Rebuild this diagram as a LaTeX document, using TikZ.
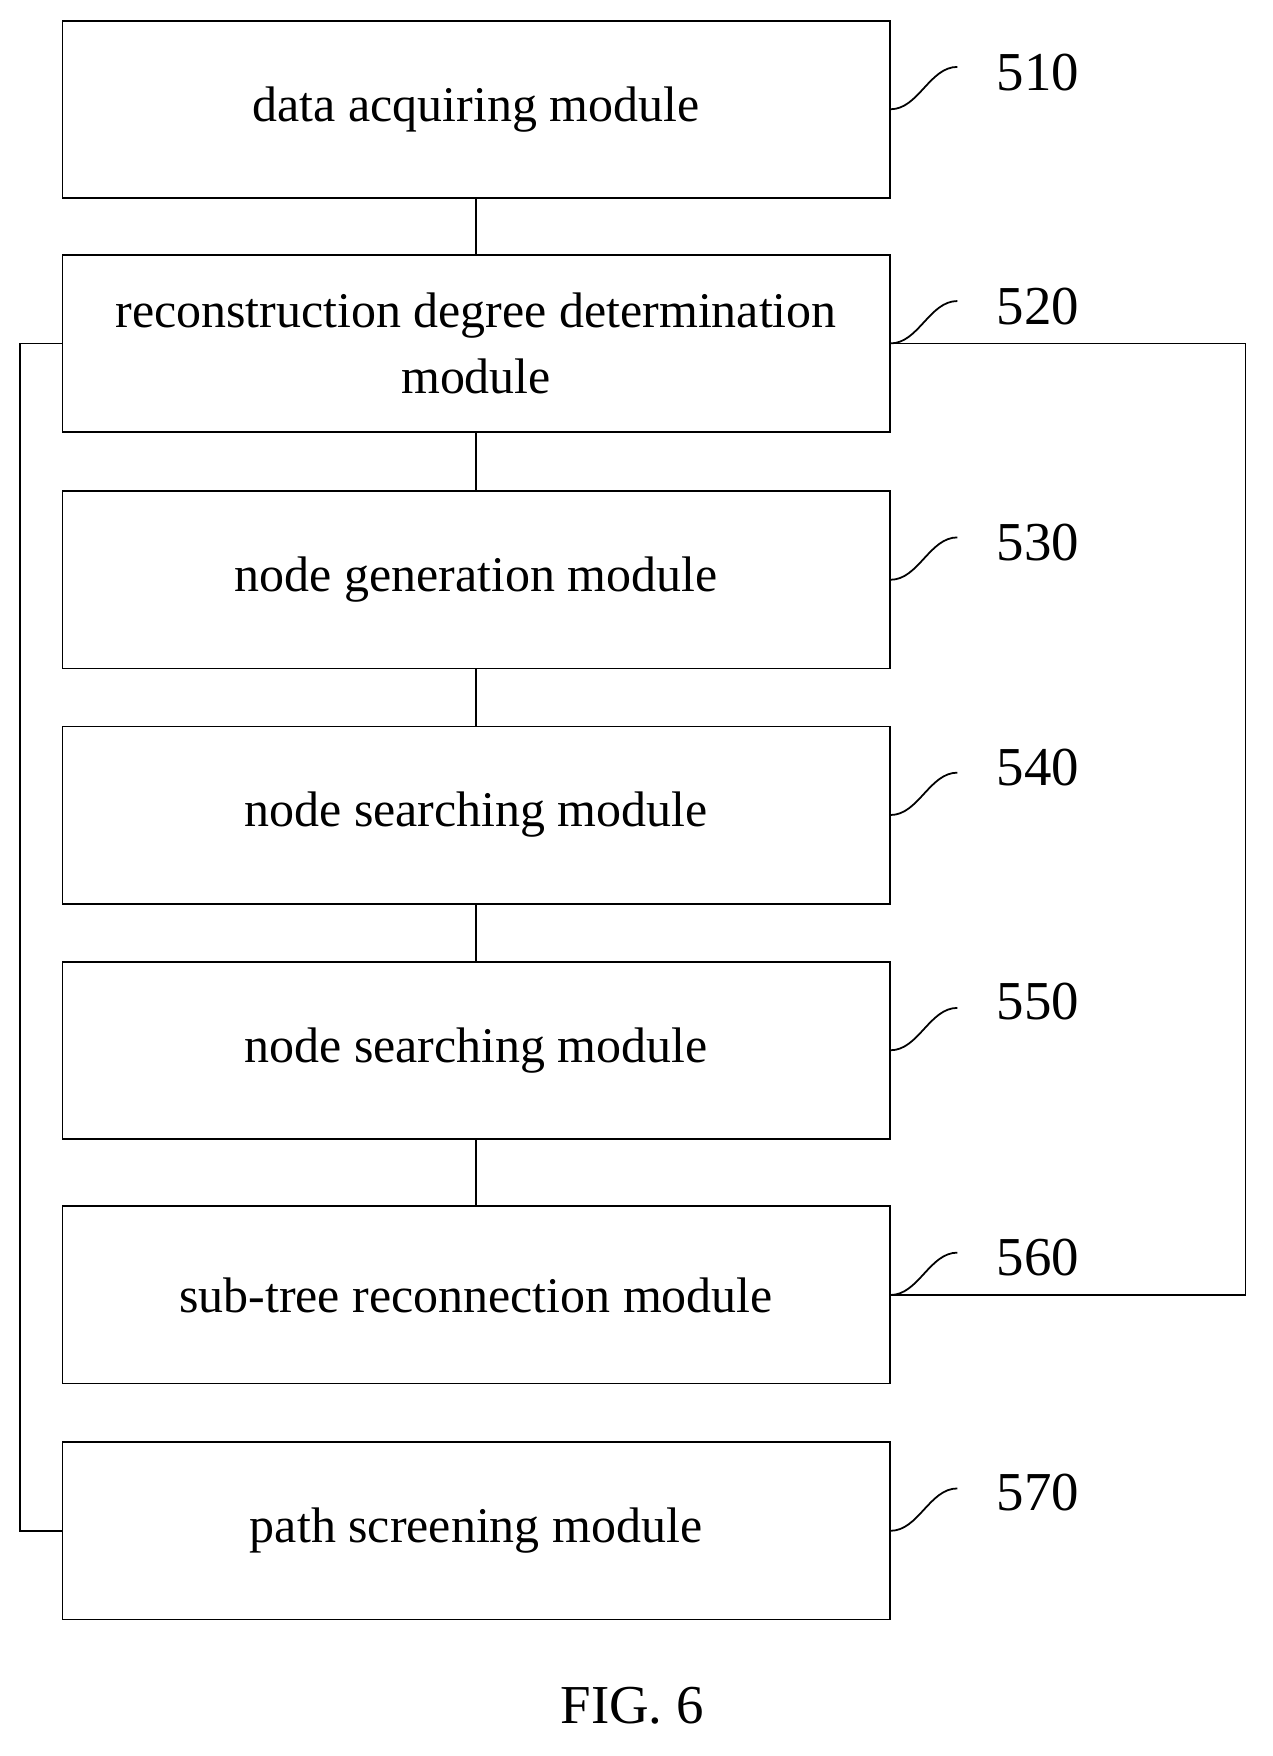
\documentclass[tikz,border=0pt]{standalone}
\usepackage{fontspec}
\setmainfont{Liberation Serif}
\begin{document}
\begin{tikzpicture}[x=0.02cm,y=-0.02cm,
    modbox/.style={draw,line width=0.9pt,minimum width=14.84cm,minimum height=3.18cm,
        align=center,font=\fontsize{25.5}{34}\selectfont},
    reflabel/.style={font=\fontsize{28}{32}\selectfont,anchor=west},
    link/.style={line width=0.9pt}]
\useasboundingbox (0,0) rectangle (1141,1575);
\node[modbox] (acq) at (427,98) {data acquiring module};
\node[modbox] (recon) at (427,308) {reconstruction degree determination\\module};
\node[modbox] (gen) at (427,520) {node generation module};
\node[modbox] (search) at (427,731) {node searching module};
\node[modbox] (searchb) at (427,942) {node searching module};
\node[modbox] (subtree) at (427,1161.5) {sub-tree reconnection module};
\node[modbox] (path) at (427,1373) {path screening module};
\foreach \n/\m in {acq/recon,recon/gen,gen/search,search/searchb,searchb/subtree}
    \draw[link] (\n) -- (\m);
% reference numerals
\foreach \n/\t/\y in {acq/510/65,recon/520/275,gen/530/487,search/540/688,searchb/550/898,subtree/560/1128,path/570/1339}{
    \node[reflabel] (l\t) at (888,\y) {\t};
    \draw[link] (\n.east) .. controls +(25,0) and +(-25,0) .. ++(60,-38);
}
% side connections
\coordinate (leftc) at (18,308);
\coordinate (rightc) at (1117,308);
\draw[link] (recon.west) -- (leftc) |- (path.west);
\draw[link] (recon.east) -- (rightc) |- (subtree.east);
\node[font=\fontsize{28}{32}\selectfont] (fig) at (567,1530) {FIG. 6};
\end{tikzpicture}
\end{document}
